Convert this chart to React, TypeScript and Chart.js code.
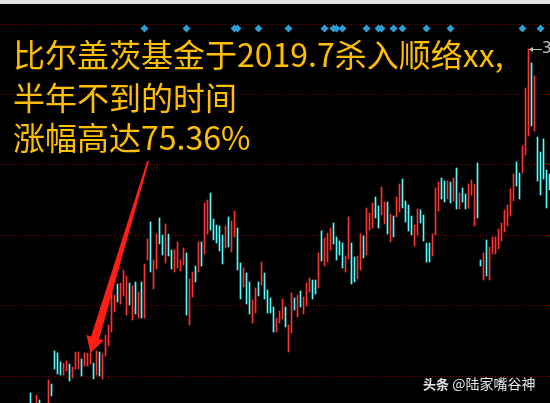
import React, { useEffect, useRef } from "react";
import { Chart, registerables } from "chart.js";

Chart.register(...registerables);

// Daily bar highs / lows (price), one per trading day, left to right
const highs = [
  0.31, 0.18, 0.29, 0.24, 0.19, 0.18, 0.44, 0.40, 0.73, 0.71,
  0.62, 0.61, 0.63, 0.60, 0.57, 0.72, 0.72, 0.65, 0.71, 0.71,
  0.71, 0.61, 0.73, 0.72, 0.70, 0.89, 0.99, 1.34, 1.29, 1.40,
  1.41, 1.54, 1.48, 1.41, 1.38, 1.42, 1.32, 1.42, 1.60, 1.85,
  2.02, 1.64, 1.90, 2.06, 1.89, 2.00, 1.90, 1.74, 1.74, 1.82,
  1.64, 1.76, 1.71, 1.45, 1.52, 1.58, 1.82, 1.82, 2.21, 2.24,
  2.31, 2.05, 1.99, 1.98, 1.89, 1.98, 2.07, 2.03, 2.13, 1.96,
  1.61, 1.56, 1.51, 1.42, 1.24, 1.36, 1.42, 1.62, 1.51, 1.34,
  1.26, 1.17, 1.06, 1.13, 1.25, 1.17, 0.99, 1.31, 1.26, 1.29,
  1.33, 1.27, 1.41, 1.46, 1.44, 1.44, 1.71, 1.93, 1.86, 1.91,
  1.96, 2.01, 1.87, 1.83, 1.81, 1.68, 2.07, 1.81, 1.67, 1.68,
  1.90, 1.88, 2.16, 2.11, 2.21, 2.27, 2.18, 2.37, 2.22, 2.22,
  2.10, 2.08, 2.27, 2.40, 2.45, 2.23, 2.19, 2.08, 1.99, 2.15,
  2.14, 2.09, 1.81, 1.81, 1.90, 2.36, 2.42, 2.46, 2.43, 2.43,
  2.42, 2.46, 2.56, 2.31, 2.36, 2.30, 2.40, 2.44, 2.40, 2.61,
  1.64, 1.71, 1.84, 1.77, 1.87, 1.87, 1.95, 2.01, 2.14, 2.19,
  2.35, 2.50, 2.62, 2.51, 2.78, 3.36, 3.75, 3.61, 3.48, 2.87,
  2.72, 2.85, 2.54, 2.50,
];

const lows = [
  0.13, 0.07, 0.13, 0.11, 0.09, 0.05, 0.13, 0.28, 0.55, 0.50,
  0.49, 0.49, 0.53, 0.43, 0.46, 0.55, 0.55, 0.48, 0.58, 0.58,
  0.60, 0.45, 0.49, 0.48, 0.45, 0.68, 0.78, 0.92, 1.12, 1.22,
  1.20, 1.28, 1.09, 1.19, 1.04, 1.10, 1.06, 1.06, 1.06, 1.64,
  1.52, 1.35, 1.55, 1.80, 1.69, 1.61, 1.68, 1.55, 1.52, 1.56,
  1.53, 1.59, 1.09, 0.99, 1.27, 1.42, 1.52, 1.58, 1.70, 1.90,
  1.94, 1.84, 1.81, 1.73, 1.60, 1.76, 1.77, 1.72, 1.87, 1.54,
  1.25, 1.37, 1.20, 1.10, 1.01, 1.11, 1.28, 1.39, 1.25, 1.11,
  1.11, 0.92, 0.92, 1.01, 1.05, 0.97, 0.72, 0.91, 1.14, 1.07,
  1.17, 1.10, 1.18, 1.32, 1.25, 1.30, 1.36, 1.63, 1.58, 1.62,
  1.74, 1.80, 1.64, 1.69, 1.56, 1.52, 1.65, 1.40, 1.42, 1.45,
  1.54, 1.66, 1.69, 1.94, 1.96, 2.06, 1.96, 2.09, 2.00, 1.90,
  1.82, 1.87, 2.07, 2.12, 2.16, 2.02, 1.93, 1.89, 1.78, 1.89,
  2.01, 1.83, 1.62, 1.62, 1.68, 1.89, 2.13, 2.25, 2.22, 2.25,
  2.21, 2.23, 2.15, 2.15, 2.22, 2.15, 2.16, 2.29, 1.98, 2.06,
  1.58, 1.44, 1.48, 1.44, 1.70, 1.70, 1.75, 1.83, 1.92, 1.98,
  2.08, 2.23, 2.38, 2.25, 2.51, 2.69, 2.88, 2.98, 2.93, 2.43,
  2.29, 2.45, 2.16, 2.34,
];

// 1 = up day (red), 0 = down day (cyan)
const rising = [
  0, 0, 1, 0, 1, 1, 1, 0, 0, 0,
  0, 1, 1, 0, 1, 1, 1, 0, 1, 1,
  1, 0, 1, 0, 1, 1, 1, 1, 1, 0,
  1, 1, 1, 0, 1, 0, 1, 0, 1, 1,
  0, 1, 1, 0, 0, 1, 0, 0, 1, 1,
  1, 1, 0, 1, 1, 0, 1, 0, 1, 1,
  0, 0, 0, 0, 0, 1, 0, 1, 1, 0,
  0, 1, 0, 0, 1, 1, 0, 1, 0, 0,
  0, 0, 1, 1, 1, 0, 1, 1, 0, 1,
  0, 1, 1, 1, 0, 0, 1, 0, 1, 1,
  1, 0, 0, 0, 0, 1, 1, 0, 0, 1,
  1, 0, 1, 1, 1, 0, 0, 1, 1, 0,
  1, 0, 1, 1, 0, 0, 0, 0, 1, 1,
  0, 0, 0, 0, 1, 1, 1, 0, 0, 1,
  0, 1, 0, 1, 0, 0, 1, 1, 1, 0,
  0, 1, 0, 1, 1, 1, 1, 1, 1, 1,
  1, 1, 0, 0, 1, 1, 1, 0, 1, 0,
  0, 0, 0, 0,
];

// Bars carrying a signal diamond on the top row
const signalBars = [38, 52, 68, 69, 76, 86, 98, 101, 102, 104, 112, 116, 117, 121, 124, 132, 140, 164, 170];
const signalLevel = 3.955;

// Dotted horizontal price levels
const gridLevels = [3.995, 3.295, 2.595, 1.885, 1.185, 0.475];

// Visible window
const yMin = 0.21;
const yMax = 4.24;
const xMin = -10.1667;
const xMax = 173.1667;

// Annotation arrow (bar index, price)
const arrowTail = { x: 39.2, y: 2.63 };
const arrowTip = { x: 20, y: 0.71 };

const peakIndex = 166;
const peakLabel = "3.75";

const titleLines = ["比尔盖茨基金于2019.7杀入顺络xx,", "半年不到的时间", "涨幅高达75.36%"];

const RED = "#ff3232";
const CYAN = "#54fcfc";

export default function App() {
  const ref = useRef<HTMLCanvasElement>(null);

  useEffect(() => {
    const gridPlugin = {
      id: "dotGrid",
      beforeDatasetsDraw(chart: any) {
        const { ctx, chartArea, scales } = chart;
        const y = scales.y;
        ctx.save();
        ctx.strokeStyle = "#8f0000";
        ctx.lineWidth = 1;
        ctx.setLineDash([1, 2]);
        gridLevels.forEach((v) => {
          const py = Math.floor(y.getPixelForValue(v)) + 0.5;
          ctx.beginPath();
          ctx.moveTo(chartArea.left, py);
          ctx.lineTo(chartArea.right, py);
          ctx.stroke();
        });
        ctx.restore();
      },
    };

    const arrowPlugin = {
      id: "bigArrow",
      afterDatasetsDraw(chart: any) {
        const { ctx, scales } = chart;
        const xs = scales.x;
        const ys = scales.y;
        const t = { x: xs.getPixelForValue(arrowTail.x), y: ys.getPixelForValue(arrowTail.y) };
        const p = { x: xs.getPixelForValue(arrowTip.x), y: ys.getPixelForValue(arrowTip.y) };
        const dx = p.x - t.x;
        const dy = p.y - t.y;
        const len = Math.hypot(dx, dy);
        const ux = dx / len;
        const uy = dy / len;
        const nx = -uy;
        const ny = ux;
        const headLen = 16;
        const headHalf = 9;
        const neckHalf = 4.2;
        const tailHalf = 0.9;
        const b = { x: p.x - ux * headLen, y: p.y - uy * headLen };
        ctx.save();
        ctx.fillStyle = "#ff1e14";
        ctx.beginPath();
        ctx.moveTo(t.x + nx * tailHalf, t.y + ny * tailHalf);
        ctx.lineTo(b.x + nx * neckHalf, b.y + ny * neckHalf);
        ctx.lineTo(b.x + nx * headHalf, b.y + ny * headHalf);
        ctx.lineTo(p.x, p.y);
        ctx.lineTo(b.x - nx * headHalf, b.y - ny * headHalf);
        ctx.lineTo(b.x - nx * neckHalf, b.y - ny * neckHalf);
        ctx.lineTo(t.x - nx * tailHalf, t.y - ny * tailHalf);
        ctx.closePath();
        ctx.fill();

        // peak pointer
        const px = xs.getPixelForValue(peakIndex) + 0.5;
        const py = Math.floor(ys.getPixelForValue(highs[peakIndex])) + 0.5;
        ctx.strokeStyle = "#c0c0c0";
        ctx.fillStyle = "#c0c0c0";
        ctx.lineWidth = 1;
        ctx.beginPath();
        ctx.moveTo(px + 2, py);
        ctx.lineTo(px + 13, py);
        ctx.stroke();
        ctx.beginPath();
        ctx.moveTo(px, py);
        ctx.lineTo(px + 4, py - 2.5);
        ctx.lineTo(px + 4, py + 2.5);
        ctx.closePath();
        ctx.fill();
        ctx.restore();
      },
    };

    const chart = new Chart(ref.current as HTMLCanvasElement, {
      type: "bar",
      data: {
        datasets: [
          {
            type: "scatter",
            data: signalBars.map((i) => ({ x: i, y: signalLevel })),
            pointStyle: "rectRot",
            pointRadius: 4,
            backgroundColor: "#2e9bd3",
            borderWidth: 0,
            order: 1,
          } as any,
          {
            type: "bar",
            data: highs.map((h, i) => ({ x: i, y: [lows[i], h] })),
            backgroundColor: rising.map((r) => (r ? RED : CYAN)),
            borderWidth: 0,
            barThickness: 1,
            order: 2,
          } as any,
        ],
      },
      options: {
        responsive: false,
        animation: false,
        devicePixelRatio: 1,
        events: [],
        layout: { padding: 0, autoPadding: false } as any,
        plugins: {
          legend: { display: false },
          tooltip: { enabled: false },
          title: { display: false },
        },
        scales: {
          x: { type: "linear", min: xMin, max: xMax, display: false, offset: false, grid: { offset: false } },
          y: { type: "linear", min: yMin, max: yMax, display: false },
        },
      },
      plugins: [gridPlugin, arrowPlugin],
    });
    return () => chart.destroy();
  }, []);

  const cjk = '"Noto Sans CJK SC", "Noto Sans", sans-serif';

  return (
    <div
      style={{
        position: "fixed",
        left: 0,
        top: 0,
        width: 550,
        height: 403,
        background: "#000",
        overflow: "hidden",
      }}
    >
      <canvas
        ref={ref}
        width={550}
        height={403}
        style={{ position: "absolute", left: 0, top: 0, width: 550, height: 403 }}
      />
      <div style={{ position: "absolute", left: 0, top: 0, width: 550, height: 4, background: "#e2e2e2" }} />
      {titleLines.map((line, k) => (
        <div
          key={k}
          style={{
            position: "absolute",
            left: 13,
            top: [37, 80, 120][k],
            fontFamily: cjk,
            fontSize: 32,
            lineHeight: "32px",
            color: "#ffbf00",
            whiteSpace: "nowrap",
          }}
        >
          {line}
        </div>
      ))}
      <div
        style={{
          position: "absolute",
          left: 542,
          top: 41,
          fontFamily: '"DejaVu Sans", sans-serif',
          fontSize: 15,
          lineHeight: "15px",
          color: "#c0c0c0",
          whiteSpace: "nowrap",
        }}
      >
        {peakLabel}
      </div>
      <div
        style={{
          position: "absolute",
          left: 423,
          top: 376,
          fontFamily: cjk,
          fontSize: 14,
          lineHeight: "14px",
          color: "#e6e6e6",
          whiteSpace: "nowrap",
          textShadow: "1px 1px 1px rgba(0,0,0,0.7)",
        }}
      >
        <span style={{ fontWeight: 700, fontSize: 13 }}>头条</span> @陆家嘴谷神
      </div>
    </div>
  );
}
